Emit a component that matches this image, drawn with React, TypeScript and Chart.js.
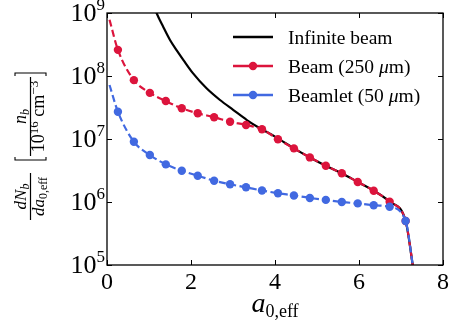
import React, { useEffect, useRef } from "react";
import { Chart, registerables } from "chart.js";

Chart.register(...registerables);

const SERIF = "'Liberation Serif', 'DejaVu Serif', serif";
const BLACK = "#000000";
const RED = "#DC143C";
const BLUE = "#4169E1";

// tick values
const xTicks = [0, 2, 4, 6, 8];
const yExponents = [5, 6, 7, 8, 9];

// marker positions (shared by both simulated series)
const markerX = [0.26, 0.64, 1.02, 1.4, 1.78, 2.16, 2.55, 2.93, 3.31, 3.69, 4.07, 4.45, 4.83, 5.21, 5.59, 5.97, 6.35, 6.73, 7.11];
const beamY = [2.6e8, 8.6e7, 5.4e7, 4.0e7, 3.07e7, 2.56e7, 2.21e7, 1.88e7, 1.67e7, 1.43e7, 9.9e6, 7.1e6, 5.1e6, 3.77e6, 2.86e6, 2.08e6, 1.51e6, 1.01e6, 5.0e5];
const beamletY = [2.71e7, 9.06e6, 5.57e6, 3.96e6, 3.14e6, 2.61e6, 2.18e6, 1.91e6, 1.71e6, 1.52e6, 1.38e6, 1.27e6, 1.16e6, 1.08e6, 1.0e6, 9.5e5, 8.9e5, 8.4e5, 5.0e5];

// curve ends (no markers)
const curveStartX = 0.06;
const beamStartY = 7.8e8;
const beamletStartY = 7.2e7;
const cutoffX = 7.29;
const cutoffY = 9e4;

// infinite beam curve
const infiniteX = [1.1, 1.18, 1.34, 1.5, 1.66, 1.82, 2.05, 2.37, 2.69, 3.01, 3.33, 3.64, 4.0, 4.45, 4.83, 5.21, 5.59, 5.97, 6.35, 6.73, 7.11, 7.29];
const infiniteY = [1.4e9, 1.0e9, 6.0e8, 3.73e8, 2.55e8, 1.79e8, 1.1e8, 6.38e7, 4.16e7, 2.88e7, 2.0e7, 1.48e7, 1.09e7, 7.1e6, 5.1e6, 3.77e6, 2.86e6, 2.08e6, 1.51e6, 1.01e6, 5.0e5, 9e4];

const legendLabels = ["Infinite beam", "Beam (250 μm)", "Beamlet (50 μm)"];
const legendColors = [BLACK, RED, BLUE];
const legendMarkers = [false, true, true];

type Run = { t: string; size: number; italic?: boolean; dy?: number };

function setFont(ctx: CanvasRenderingContext2D, r: Run) {
  ctx.font = `${r.italic ? "italic " : ""}${r.size}px ${SERIF}`;
}
function runsWidth(ctx: CanvasRenderingContext2D, runs: Run[]) {
  let w = 0;
  for (const r of runs) {
    setFont(ctx, r);
    w += ctx.measureText(r.t).width;
  }
  return w;
}
function drawRuns(ctx: CanvasRenderingContext2D, runs: Run[], x: number, y: number) {
  let cx = x;
  for (const r of runs) {
    setFont(ctx, r);
    ctx.fillText(r.t, cx, y + (r.dy || 0));
    cx += ctx.measureText(r.t).width;
  }
  return cx;
}
function drawRunsCentered(ctx: CanvasRenderingContext2D, runs: Run[], cx: number, y: number) {
  const w = runsWidth(ctx, runs);
  drawRuns(ctx, runs, cx - w / 2, y);
}

const decorPlugin = {
  id: "decor",
  afterDraw(chart: any) {
    const { ctx, chartArea: a, scales } = chart;
    const xs = scales.x;
    const ys = scales.y;
    ctx.save();
    ctx.textAlign = "left";
    ctx.textBaseline = "alphabetic";
    ctx.fillStyle = "#000";
    ctx.strokeStyle = "#000";

    // frame
    ctx.lineWidth = 1.3;
    ctx.strokeRect(a.left, a.top, a.right - a.left, a.bottom - a.top);

    // inward ticks on all sides
    ctx.lineWidth = 1;
    ctx.beginPath();
    for (const v of xTicks) {
      const px = Math.round(xs.getPixelForValue(v)) + 0.5;
      ctx.moveTo(px, a.bottom);
      ctx.lineTo(px, a.bottom - 5);
      ctx.moveTo(px, a.top);
      ctx.lineTo(px, a.top + 5);
    }
    for (const e of yExponents) {
      const py = Math.round(ys.getPixelForValue(Math.pow(10, e))) + 0.5;
      ctx.moveTo(a.left, py);
      ctx.lineTo(a.left + 5, py);
      ctx.moveTo(a.right, py);
      ctx.lineTo(a.right - 5, py);
    }
    ctx.stroke();

    // x tick labels
    for (const v of xTicks) {
      const px = xs.getPixelForValue(v);
      drawRunsCentered(ctx, [{ t: String(v), size: 24 }], px, a.bottom + 24);
    }
    // y tick labels 10^e
    for (const e of yExponents) {
      const py = ys.getPixelForValue(Math.pow(10, e));
      const expRun: Run = { t: String(e), size: 17 };
      const ew = runsWidth(ctx, [expRun]);
      const ex = a.left - 2 - ew;
      drawRuns(ctx, [expRun], ex, py - 3);
      const base: Run = { t: "10", size: 26 };
      const bw = runsWidth(ctx, [base]);
      drawRuns(ctx, [base], ex - bw, py + 8);
    }

    // x axis title a_{0,eff}
    const xt: Run[] = [
      { t: "a", size: 28, italic: true },
      { t: "0,eff", size: 18, dy: 5 },
    ];
    drawRunsCentered(ctx, xt, (a.left + a.right) / 2, 312);

    // y axis title (rotated)
    ctx.save();
    ctx.translate(30.5, 220);
    ctx.rotate(-Math.PI / 2);
    // first fraction dN_b / da_{0,eff}
    ctx.fillRect(0, -0.6, 47, 1.2);
    drawRunsCentered(ctx, [
      { t: "d", size: 17, italic: true },
      { t: "N", size: 17, italic: true },
      { t: "b", size: 12, italic: true, dy: 3 },
    ], 23.5, -4.5);
    drawRunsCentered(ctx, [
      { t: "da", size: 17, italic: true },
      { t: "0,eff", size: 12, dy: 3 },
    ], 23.5, 13.5);
    // brackets
    ctx.lineWidth = 1.1;
    ctx.beginPath();
    ctx.moveTo(63, -15.5);
    ctx.lineTo(60, -15.5);
    ctx.lineTo(60, 15.5);
    ctx.lineTo(63, 15.5);
    ctx.moveTo(144, -15.5);
    ctx.lineTo(147, -15.5);
    ctx.lineTo(147, 15.5);
    ctx.lineTo(144, 15.5);
    ctx.stroke();
    // inner fraction n_b / (10^16 cm^-3)
    ctx.fillRect(64, -0.6, 79, 1.2);
    drawRunsCentered(ctx, [
      { t: "n", size: 18, italic: true },
      { t: "b", size: 12, italic: true, dy: 3 },
    ], 103.5, -4.5);
    drawRunsCentered(ctx, [
      { t: "10", size: 18 },
      { t: "16", size: 13, dy: -6 },
      { t: " cm", size: 18 },
      { t: "−3", size: 13, dy: -6 },
    ], 103.5, 13.5);
    ctx.restore();

    // legend
    const rowsY = [37, 66, 95];
    for (let i = 0; i < legendLabels.length; i++) {
      const y = rowsY[i];
      ctx.strokeStyle = legendColors[i];
      ctx.lineWidth = 2.5;
      ctx.beginPath();
      ctx.moveTo(233, y);
      ctx.lineTo(273, y);
      ctx.stroke();
      if (legendMarkers[i]) {
        ctx.fillStyle = legendColors[i];
        ctx.beginPath();
        ctx.arc(253, y, 4.2, 0, Math.PI * 2);
        ctx.fill();
      }
      ctx.fillStyle = "#000";
      const parts = legendLabels[i].split("μ");
      const runs: Run[] = [];
      parts.forEach((p, k) => {
        if (k > 0) runs.push({ t: "μ", size: 19.5, italic: true });
        runs.push({ t: p, size: 19.5 });
      });
      drawRuns(ctx, runs, 288, y + 7);
    }
    ctx.restore();
  },
};

function pts(xs: number[], ys: number[]) {
  return xs.map((x, i) => ({ x, y: ys[i] }));
}

export default function App() {
  const ref = useRef<HTMLCanvasElement | null>(null);
  useEffect(() => {
    document.body.style.margin = "0";
    const canvas = ref.current;
    if (!canvas) return;
    const beamData = [{ x: curveStartX, y: beamStartY }, ...pts(markerX, beamY), { x: cutoffX, y: cutoffY }];
    const beamletData = [{ x: curveStartX, y: beamletStartY }, ...pts(markerX, beamletY), { x: cutoffX, y: cutoffY }];
    const markerRadius = (n: number) => (c: any) => (c.dataIndex === 0 || c.dataIndex === n - 1 ? 0 : 4.2);
    const chart = new Chart(canvas, {
      type: "line",
      data: {
        datasets: [
          {
            label: legendLabels[0],
            data: pts(infiniteX, infiniteY),
            borderColor: BLACK,
            borderWidth: 2.2,
            pointRadius: 0,
            cubicInterpolationMode: "monotone",
            order: 3,
            clip: 0,
          },
          {
            label: legendLabels[1],
            data: beamData,
            borderColor: RED,
            backgroundColor: RED,
            borderWidth: 2.2,
            borderDash: [7, 3.5],
            pointRadius: markerRadius(beamData.length),
            pointBorderWidth: 0,
            pointBackgroundColor: RED,
            cubicInterpolationMode: "monotone",
            order: 2,
            clip: 0,
          },
          {
            label: legendLabels[2],
            data: beamletData,
            borderColor: BLUE,
            backgroundColor: BLUE,
            borderWidth: 2.2,
            borderDash: [7, 3.5],
            pointRadius: markerRadius(beamletData.length),
            pointBorderWidth: 0,
            pointBackgroundColor: BLUE,
            cubicInterpolationMode: "monotone",
            order: 1,
            clip: 0,
          },
        ],
      } as any,
      options: {
        responsive: false,
        animation: false,
        devicePixelRatio: 1,
        layout: { padding: { left: 0, top: 13, right: 6, bottom: 0 } },
        plugins: { legend: { display: false }, tooltip: { enabled: false } },
        scales: {
          x: {
            type: "linear",
            min: 0,
            max: 8,
            grid: { display: false },
            border: { display: false },
            ticks: { display: false, stepSize: 2 },
            afterFit: (s: any) => {
              s.height = 57;
            },
          },
          y: {
            type: "logarithmic",
            min: 1e5,
            max: 1e9,
            grid: { display: false },
            border: { display: false },
            ticks: { display: false },
            afterBuildTicks: (s: any) => {
              s.ticks = yExponents.map((e) => ({ value: Math.pow(10, e) }));
            },
            afterFit: (s: any) => {
              s.width = 107;
            },
          },
        },
      } as any,
      plugins: [decorPlugin],
    });
    return () => chart.destroy();
  }, []);
  return (
    <div style={{ width: 449, height: 322 }}>
      <canvas ref={ref} width={449} height={322} style={{ display: "block" }} />
    </div>
  );
}
